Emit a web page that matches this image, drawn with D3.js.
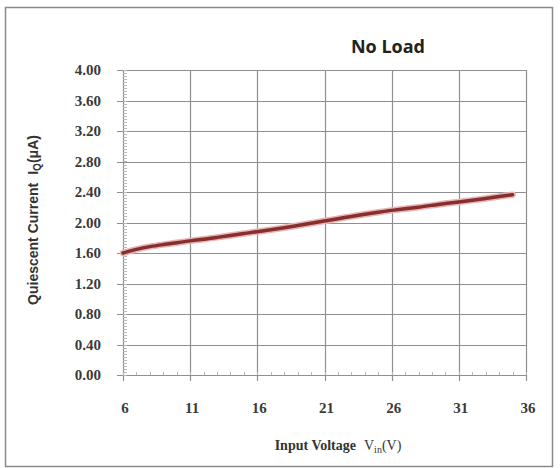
<!DOCTYPE html>
<html>
<head>
<meta charset="utf-8">
<script src="https://cdn.jsdelivr.net/npm/d3@7"></script>
<style>
  html, body { margin: 0; padding: 0; background: #fff; }
</style>
</head>
<body>
<div id="chart"></div>
<script>
// Data
const vin = [6, 7, 8, 9, 10, 11, 12, 13, 14, 15, 16, 17, 18, 19, 20, 21, 22, 23, 24, 25, 26, 27, 28, 29, 30, 31, 32, 33, 34, 35];
const iq = [1.60, 1.65, 1.685, 1.71, 1.735, 1.76, 1.78, 1.805, 1.83, 1.855, 1.88, 1.905, 1.93, 1.96, 1.99, 2.02, 2.05, 2.08, 2.11, 2.135, 2.16, 2.18, 2.20, 2.225, 2.25, 2.27, 2.29, 2.315, 2.34, 2.365];
const xTicks = [6, 11, 16, 21, 26, 31, 36];
const yTicks = [0, 0.4, 0.8, 1.2, 1.6, 2.0, 2.4, 2.8, 3.2, 3.6, 4.0];

const width = 560, height = 468;
const margin = { top: 70, right: 34, bottom: 93, left: 123 };

const svg = d3.select("#chart").append("svg")
    .attr("width", width)
    .attr("height", height);

// outer frame
svg.append("rect")
    .attr("x", 5.5).attr("y", 7.5)
    .attr("width", 547).attr("height", 459)
    .attr("fill", "#fff")
    .attr("stroke", "#8a8a8a")
    .attr("stroke-width", 1.5);

const x = d3.scaleLinear().domain([6, 36]).range([margin.left, width - margin.right]);
const y = d3.scaleLinear().domain([0, 4]).range([height - margin.bottom, margin.top]);

const grid = svg.append("g").attr("stroke", "#8f8f8f").attr("stroke-width", 1.2);

// horizontal gridlines
grid.selectAll("line.h")
    .data(yTicks)
    .join("line")
    .attr("class", "h")
    .attr("x1", x(6) - 6).attr("x2", x(36))
    .attr("y1", d => Math.round(y(d)) + 0.5)
    .attr("y2", d => Math.round(y(d)) + 0.5);

// vertical gridlines
grid.selectAll("line.v")
    .data(xTicks)
    .join("line")
    .attr("class", "v")
    .attr("x1", d => Math.round(x(d)) + 0.5)
    .attr("x2", d => Math.round(x(d)) + 0.5)
    .attr("y1", y(4)).attr("y2", y(0) + 6);

// minor ticks on the y axis
const yMinor = d3.range(0, 4.0001, 0.04);
svg.append("g").attr("stroke", "#b8b8b8")
    .selectAll("line")
    .data(yMinor)
    .join("line")
    .attr("x1", x(6)).attr("x2", x(6) + 4)
    .attr("y1", d => Math.round(y(d)) + 0.5)
    .attr("y2", d => Math.round(y(d)) + 0.5);

// minor ticks on the x axis
const xMinor = d3.range(6, 36.001, 1);
svg.append("g").attr("stroke", "#b8b8b8")
    .selectAll("line")
    .data(xMinor)
    .join("line")
    .attr("x1", d => Math.round(x(d)) + 0.5)
    .attr("x2", d => Math.round(x(d)) + 0.5)
    .attr("y1", y(0) - 3).attr("y2", y(0));

// tick labels
svg.append("g")
    .style("font", "bold 15px 'Liberation Serif', serif")
    .attr("fill", "#3a3a3a")
    .attr("text-anchor", "end")
    .selectAll("text")
    .data(yTicks)
    .join("text")
    .attr("x", 101)
    .attr("y", d => y(d))
    .attr("dy", "0.35em")
    .text(d => d.toFixed(2));

svg.append("g")
    .style("font", "bold 15px 'Liberation Serif', serif")
    .attr("fill", "#3a3a3a")
    .attr("text-anchor", "middle")
    .selectAll("text")
    .data(xTicks)
    .join("text")
    .attr("x", d => x(d) + 2)
    .attr("y", 413)
    .text(d => d);

// the curve
const line = d3.line()
    .x((d, i) => x(vin[i]))
    .y(d => y(d))
    .curve(d3.curveBasis);

svg.append("path")
    .datum(iq)
    .attr("fill", "none")
    .attr("stroke", "#eab4b4")
    .attr("stroke-width", 6.5)
    .attr("stroke-linecap", "round")
    .attr("d", line);

svg.append("path")
    .datum(iq)
    .attr("fill", "none")
    .attr("stroke", "#862f2f")
    .attr("stroke-width", 3.5)
    .attr("stroke-linecap", "round")
    .attr("d", line);

// title
svg.append("text")
    .attr("x", 388).attr("y", 53)
    .attr("text-anchor", "middle")
    .style("font", "bold 18px 'Open Sans', sans-serif")
    .attr("fill", "#222")
    .text("No Load");

// x axis label
const xl = svg.append("text")
    .attr("x", 338).attr("y", 450)
    .attr("text-anchor", "middle")
    .style("font", "14px 'Liberation Serif', serif")
    .attr("fill", "#333");
xl.append("tspan").attr("font-weight", "bold").text("Input Voltage");
xl.append("tspan").attr("dx", 8).text("V");
xl.append("tspan").attr("dy", 3).style("font-size", "10px").text("in");
xl.append("tspan").attr("dy", -3).text("(V)");

// y axis label
const yl = svg.append("text")
    .attr("transform", "translate(38,220) rotate(-90)")
    .attr("text-anchor", "middle")
    .style("font", "bold 14px 'Liberation Sans Narrow', 'Liberation Sans', sans-serif")
    .attr("fill", "#333");
yl.append("tspan").text("Quiescent Current");
yl.append("tspan").attr("dx", 8).text("I");
yl.append("tspan").attr("dy", 3).style("font-size", "10px").text("Q");
yl.append("tspan").attr("dy", -3).text("(\u03bcA)");
</script>
</body>
</html>
